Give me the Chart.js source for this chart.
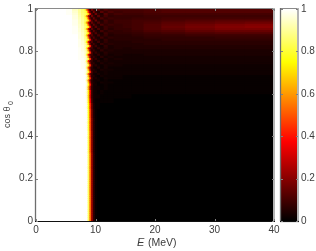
<!DOCTYPE html>
<html>
<head>
<meta charset="utf-8">
<script src="https://cdn.jsdelivr.net/npm/chart.js@4"></script>
<style>
html, body { margin: 0; padding: 0; background: #fff; }
canvas { position: absolute; left: 0; top: 0; }
</style>
</head>
<body>
<canvas id="heat" width="316" height="251"></canvas>
<canvas id="cbar" width="316" height="251"></canvas>
<script>
// upper edge of each energy bin (MeV)
var energyEdges = [3, 5, 6, 7, 7.5, 8, 8.3, 8.6, 8.9, 9.2, 9.5, 9.8, 10.2, 10.7, 11.3, 12, 13, 14.5, 16, 18, 21, 25, 30, 35, 40];
var xTicks = [0, 10, 20, 30, 40];
var yTicks = [0, 0.2, 0.4, 0.6, 0.8, 1];
var cbarRange = [0, 1];

// how many 2px grid rows each line of rowValues covers, top to bottom
var rowSpans = [
  1, 1, 1, 1, 1, 1, 1, 1, 1, 1, 1, 1,
  1, 1, 1, 1, 1, 1, 1, 1, 1, 1, 1, 1,
  1, 1, 1, 1, 1, 1, 1, 1, 1, 1, 1, 1,
  2, 2, 2, 2, 3, 4, 6, 10, 32
];

// intensity in percent, one line per row
var rowValues = [
  [100,100,99,94,90,86,82,55,24,6,20,9,5,14,7,12,9,10,10,10,11,12,12,12,12],
  [100,100,99,95,90,86,84,78,42,12,6,18,8,5,13,8,11,9,10,10,11,12,12,12,12],
  [100,100,99,96,91,87,85,82,66,30,10,5,16,7,5,12,8,10,9,9,10,10,10,10,10],
  [100,100,100,97,92,88,83,60,26,7,18,8,5,13,6,10,7,8,8,8,9,9,9,9,9],
  [100,100,100,97,93,89,85,78,44,12,6,16,7,5,11,7,9,8,8,9,9,10,10,10,10],
  [100,100,100,98,94,90,86,82,68,32,10,5,15,6,5,10,7,9,9,10,10,11,12,13,13],
  [100,100,100,98,94,90,84,62,28,7,16,8,5,12,6,9,7,9,9,10,11,13,14,15,16],
  [100,100,100,98,95,91,86,80,46,12,6,15,7,5,11,7,9,8,9,10,12,14,16,18,19],
  [100,100,100,99,95,92,88,83,70,34,10,5,13,6,5,9,7,8,9,10,12,15,17,19,20],
  [100,100,100,99,96,92,87,66,30,8,15,7,4,11,5,9,6,8,8,10,12,14,16,18,18],
  [100,100,100,99,96,93,89,82,48,13,6,13,6,4,10,6,8,7,8,9,11,12,14,15,15],
  [100,100,100,99,97,94,90,84,72,36,10,5,12,5,4,9,6,7,7,8,9,10,11,12,12],
  [100,100,100,100,97,94,89,70,32,8,13,6,4,10,5,8,5,6,6,7,8,8,9,9,9],
  [100,100,100,100,97,95,90,84,50,14,6,12,5,4,9,5,7,6,6,6,7,7,7,8,8],
  [100,100,100,100,98,95,91,86,74,38,10,5,10,5,4,8,5,6,6,6,6,7,7,7,7],
  [100,100,100,100,98,96,92,74,34,9,12,5,4,9,4,7,5,5,5,6,6,6,6,6,6],
  [100,100,100,100,98,96,93,86,54,15,6,10,5,3,8,5,6,5,5,5,6,6,6,6,6],
  [100,100,100,100,98,97,94,88,76,40,10,5,9,4,3,7,4,5,5,5,5,5,5,5,5],
  [100,100,100,100,99,97,95,78,36,10,10,5,3,8,4,6,4,5,4,5,5,5,5,5,5],
  [100,100,100,100,99,97,95,88,56,16,6,9,4,3,7,4,5,4,4,4,4,4,4,4,4],
  [100,100,100,100,99,98,96,90,78,42,10,4,8,4,3,6,4,4,4,4,4,4,4,4,4],
  [100,100,100,100,99,98,96,80,38,11,9,4,3,7,3,5,3,4,3,3,4,4,4,4,4],
  [100,100,100,100,99,98,97,90,58,17,6,8,4,2,6,3,4,3,3,3,3,3,3,3,3],
  [100,100,100,100,99,99,97,92,78,42,10,4,7,3,2,5,3,4,3,3,3,3,3,3,3],
  [100,100,100,100,100,99,98,84,42,12,8,4,3,6,3,4,3,3,3,3,3,3,3,3,3],
  [100,100,100,100,100,99,98,92,60,18,6,7,3,2,5,3,4,3,3,3,3,3,3,3,3],
  [100,100,100,100,100,99,98,93,78,42,10,4,6,3,2,4,3,3,2,2,2,2,2,2,2],
  [100,100,100,100,100,99,99,86,46,14,7,3,2,5,2,4,2,2,2,2,2,2,2,2,2],
  [100,100,100,100,100,100,99,94,62,20,6,6,3,2,4,3,3,2,2,2,2,2,2,2,2],
  [100,100,100,100,100,100,99,94,78,42,10,4,5,2,2,3,2,2,2,2,2,2,2,2,2],
  [100,100,100,100,100,100,99,88,50,15,7,3,2,4,2,3,2,2,2,2,2,2,2,2,2],
  [100,100,100,100,100,100,100,95,64,22,6,5,2,1,3,2,2,2,1,1,1,1,1,1,1],
  [100,100,100,100,100,100,100,95,78,42,9,3,4,2,1,3,2,2,1,1,1,1,1,1,1],
  [100,100,100,100,100,100,100,90,54,17,6,3,2,3,1,2,1,1,1,1,1,1,1,1,1],
  [100,100,100,100,100,100,100,96,66,24,6,4,2,1,3,2,2,1,1,1,1,1,1,1,1],
  [100,100,100,100,100,100,100,96,76,40,9,3,3,1,1,2,1,1,1,1,1,1,1,1,1],
  [100,100,100,100,100,100,100,94,62,24,7,3,2,2,1,2,1,1,1,1,1,1,1,1,1],
  [100,100,100,100,100,100,100,96,72,34,8,3,2,1,2,1,1,1,1,1,1,1,1,1,1],
  [100,100,100,100,100,100,100,96,68,30,8,3,2,2,1,1,1,1,1,0,0,0,0,0,0],
  [100,100,100,100,100,100,100,97,72,36,10,3,1,1,1,1,1,0,0,0,0,0,0,0,0],
  [100,100,100,100,100,100,100,98,76,42,14,4,1,1,0,0,0,0,0,0,0,0,0,0,0],
  [100,100,100,100,100,100,100,99,78,46,16,5,1,0,0,0,0,0,0,0,0,0,0,0,0],
  [100,100,100,100,100,100,100,99,80,48,18,6,1,0,0,0,0,0,0,0,0,0,0,0,0],
  [100,100,100,100,100,100,100,100,82,50,20,6,1,0,0,0,0,0,0,0,0,0,0,0,0],
  [100,100,100,100,100,100,100,100,84,54,22,7,1,0,0,0,0,0,0,0,0,0,0,0,0]
];

function hot(v) {
  var r = Math.min(1, v / 0.375);
  var g = Math.max(0, Math.min(1, (v - 0.375) / 0.375));
  var b = Math.max(0, (v - 0.75) / 0.25);
  return 'rgb(' + Math.round(r * 255) + ',' + Math.round(g * 255) + ',' + Math.round(b * 255) + ')';
}

var FONT = '"Liberation Sans", Arial, sans-serif';
var TICK_COLOR = '#3c3c3c';

// expand the rows to the 107 grid rows of the plot
var gridRows = [];
var gridLabels = [];
rowValues.forEach(function (row, i) {
  for (var k = 0; k < rowSpans[i]; k++) {
    gridRows.push(row);
    gridLabels.push(gridLabels.length);
  }
});

// one dataset per energy bin, bars all start at E=0 so the narrower ones paint over the wider
var heatSets = energyEdges.map(function (edge, c) {
  return {
    data: gridRows.map(function () { return edge; }),
    backgroundColor: gridRows.map(function (row) { return hot(row[c] / 100); }),
    borderWidth: 0,
    grouped: false,
    barPercentage: 1,
    categoryPercentage: 1,
    yAxisID: 'rows'
  };
});

// axis box, ticks point inwards like in the original
function frame(ctx, area, xs, ys, tickLen) {
  ctx.save();
  ctx.lineWidth = 1;
  ctx.strokeStyle = '#8a8a8a';
  ctx.beginPath();
  ctx.moveTo(area.left, area.top - 0.5);
  ctx.lineTo(area.right, area.top - 0.5);
  ctx.stroke();
  ctx.strokeStyle = '#b4b4b4';
  ctx.lineWidth = 2;
  ctx.beginPath();
  ctx.moveTo(area.right, area.top - 1);
  ctx.lineTo(area.right, area.bottom);
  ctx.stroke();
  ctx.strokeStyle = '#6e6e6e';
  ctx.lineWidth = 1.3;
  ctx.beginPath();
  ctx.moveTo(area.left - 0.5, area.top - 1);
  ctx.lineTo(area.left - 0.5, area.bottom);
  ctx.stroke();
  ctx.strokeStyle = '#111';
  ctx.lineWidth = 1.2;
  ctx.beginPath();
  ctx.moveTo(area.left - 1, area.bottom + 0.5);
  ctx.lineTo(area.right + 1, area.bottom + 0.5);
  ctx.stroke();
  ctx.strokeStyle = '#808080';
  ctx.lineWidth = 1;
  ctx.beginPath();
  xs.forEach(function (px) {
    ctx.moveTo(px, area.bottom);
    ctx.lineTo(px, area.bottom - tickLen);
    ctx.moveTo(px, area.top);
    ctx.lineTo(px, area.top + tickLen);
  });
  ys.forEach(function (py) {
    ctx.moveTo(area.left, py);
    ctx.lineTo(area.left + tickLen, py);
    ctx.moveTo(area.right, py);
    ctx.lineTo(area.right - tickLen, py);
  });
  ctx.stroke();
  ctx.restore();
}

var heatFrame = {
  id: 'heatFrame',
  // black backdrop so the row seams do not show the white page
  beforeDatasetsDraw: function (chart) {
    var a = chart.chartArea;
    chart.ctx.save();
    chart.ctx.fillStyle = '#000';
    chart.ctx.fillRect(a.left, a.top, a.right - a.left, a.bottom - a.top);
    chart.ctx.restore();
  },
  afterDatasetsDraw: function (chart) {
    var xs = xTicks.map(function (v) { return Math.round(chart.scales.x.getPixelForValue(v)) + 0.5; });
    var ys = yTicks.map(function (v) { return Math.round(chart.scales.y.getPixelForValue(v)) + 0.5; });
    frame(chart.ctx, chart.chartArea, xs, ys, 2);
  },
  afterDraw: function (chart) {
    var ctx = chart.ctx;
    ctx.save();
    ctx.fillStyle = TICK_COLOR;
    ctx.textBaseline = 'middle';
    ctx.textAlign = 'left';
    ctx.font = 'italic 11px ' + FONT;
    ctx.fillText('E', 137, 243);
    ctx.font = '10.5px ' + FONT;
    ctx.fillText('(MeV)', 148, 243);
    ctx.translate(8, 114);
    ctx.rotate(-Math.PI / 2);
    ctx.font = '9px ' + FONT;
    ctx.fillText('cos \u03b8', -14, 0);
    ctx.font = '7px ' + FONT;
    ctx.fillText('0', 9, 3);
    ctx.restore();
  }
};

function tickLabel(v) { return String(v); }

new Chart(document.getElementById('heat'), {
  type: 'bar',
  plugins: [heatFrame],
  data: { labels: gridLabels, datasets: heatSets },
  options: {
    indexAxis: 'y',
    responsive: false,
    animation: false,
    events: [],
    layout: { padding: { top: 7, right: 42, left: 0, bottom: 0 } },
    plugins: { legend: { display: false }, tooltip: { enabled: false } },
    scales: {
      x: {
        type: 'linear',
        min: 0,
        max: 40,
        afterBuildTicks: function (scale) { scale.ticks = xTicks.map(function (v) { return { value: v }; }); },
        afterFit: function (scale) { scale.height = 30; },
        grid: { display: false, drawTicks: false },
        border: { display: false },
        ticks: { color: TICK_COLOR, font: { family: FONT, size: 10 }, padding: 3, maxRotation: 0, callback: tickLabel }
      },
      rows: { type: 'category', display: false, position: 'left' },
      y: {
        type: 'linear',
        position: 'left',
        min: 0,
        max: 1,
        offset: false,
        afterBuildTicks: function (scale) { scale.ticks = yTicks.map(function (v) { return { value: v }; }); },
        afterFit: function (scale) { scale.width = 36; },
        grid: { display: false, drawTicks: false },
        border: { display: false },
        ticks: { color: TICK_COLOR, font: { family: FONT, size: 10 }, padding: 3, callback: tickLabel }
      }
    }
  }
});

// colour bar: a single floating bar with the colormap as gradient
var cbarFrame = {
  id: 'cbarFrame',
  afterDatasetsDraw: function (chart) {
    var ys = yTicks.map(function (v) { return Math.round(chart.scales.y.getPixelForValue(v)) + 0.5; });
    frame(chart.ctx, chart.chartArea, [], ys, 2);
  }
};

new Chart(document.getElementById('cbar'), {
  type: 'bar',
  plugins: [cbarFrame],
  data: {
    labels: ['cbar'],
    datasets: [{
      data: [cbarRange],
      borderWidth: 0,
      barPercentage: 1,
      categoryPercentage: 1,
      backgroundColor: function (c) {
        var area = c.chart.chartArea;
        if (!area) return '#000';
        var g = c.chart.ctx.createLinearGradient(0, area.bottom, 0, area.top);
        [0, 0.125, 0.25, 0.375, 0.5, 0.625, 0.75, 0.875, 1].forEach(function (s) { g.addColorStop(s, hot(s)); });
        return g;
      }
    }]
  },
  options: {
    responsive: false,
    animation: false,
    events: [],
    layout: { padding: { top: 7, left: 281, right: 0, bottom: 30 } },
    plugins: { legend: { display: false }, tooltip: { enabled: false } },
    scales: {
      x: { display: false },
      y: {
        type: 'linear',
        position: 'right',
        min: 0,
        max: 1,
        afterBuildTicks: function (scale) { scale.ticks = yTicks.map(function (v) { return { value: v }; }); },
        afterFit: function (scale) { scale.width = 18; },
        grid: { display: false, drawTicks: false },
        border: { display: false },
        ticks: { color: TICK_COLOR, font: { family: FONT, size: 10 }, padding: 3, callback: tickLabel }
      }
    }
  }
});
</script>
</body>
</html>
